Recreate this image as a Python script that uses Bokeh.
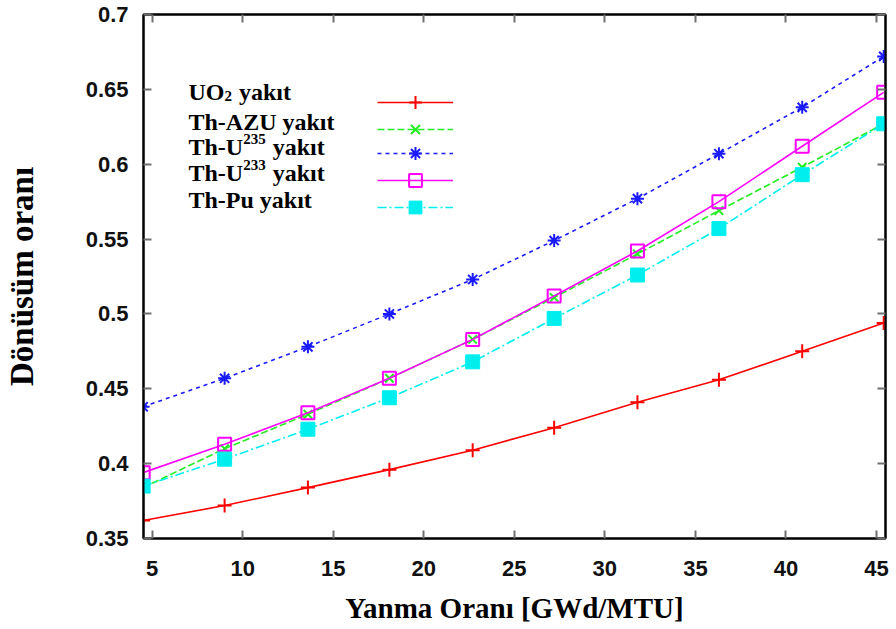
from bokeh.plotting import figure
from bokeh.models import FixedTicker, LinearAxis, Legend, LegendItem, Label, Range1d
from bokeh.embed import file_html
from bokeh.resources import INLINE

# ---- data ----
burnup = [4.5, 9.0, 13.6, 18.1, 22.7, 27.2, 31.8, 36.3, 40.9, 45.4]
uo2 = [0.362, 0.372, 0.384, 0.396, 0.409, 0.424, 0.441, 0.456, 0.475, 0.494]
th_azu = [0.384, 0.410, 0.433, 0.457, 0.483, 0.511, 0.540, 0.569, 0.598, 0.627]
th_u235 = [0.438, 0.457, 0.478, 0.500, 0.523, 0.549, 0.577, 0.607, 0.638, 0.672]
th_u233 = [0.394, 0.413, 0.434, 0.457, 0.483, 0.512, 0.542, 0.575, 0.612, 0.648]
th_pu = [0.385, 0.403, 0.423, 0.444, 0.468, 0.497, 0.526, 0.557, 0.593, 0.627]

# legend texts: (main part, sub/superscript part, rest, kind)
series_labels = [
    ("UO", "2", "yak\u0131t", "sub"),
    ("Th-AZU yak\u0131t", "", "", None),
    ("Th-U", "235", "yak\u0131t", "sup"),
    ("Th-U", "233", "yak\u0131t", "sup"),
    ("Th-Pu yak\u0131t", "", "", None),
]
x_ticks = [5, 10, 15, 20, 25, 30, 35, 40, 45]
y_ticks = [0.35, 0.4, 0.45, 0.5, 0.55, 0.6, 0.65, 0.7]
y_tick_labels = ["0.35", "0.4", "0.45", "0.5", "0.55", "0.6", "0.65", "0.7"]
x_title = "Yanma Oran\u0131 [GWd/MTU]"
y_title = "D\u00f6n\u00fcs\u00fcm oran\u0131"

TICK_FONT = "Liberation Sans"
TITLE_FONT = "Liberation Serif"

FRAME_H = 524
p = figure(width=890, height=627,
           x_range=Range1d(4.52, 45.5), y_range=Range1d(0.35, 0.7),
           output_backend="svg", toolbar_location=None,
           min_border_left=143, min_border_right=5,
           min_border_top=14, min_border_bottom=89)

p.xgrid.visible = False
p.ygrid.visible = False
p.outline_line_color = "black"
p.outline_line_width = 2
p.background_fill_color = "white"
p.border_fill_color = "white"

def style_axis(ax, ticks, overrides=None, show_labels=True):
    ax.ticker = FixedTicker(ticks=ticks)
    if overrides:
        ax.major_label_overrides = overrides
    ax.minor_tick_line_color = None
    ax.major_tick_in = 8
    ax.major_tick_out = 0
    ax.major_tick_line_color = "#707070"
    ax.major_tick_line_width = 2
    ax.axis_line_color = "black"
    ax.axis_line_width = 2
    if show_labels:
        ax.major_label_text_font = TICK_FONT
        ax.major_label_text_font_style = "bold"
        ax.major_label_text_font_size = "22px"
        ax.major_label_text_color = "#111111"
    else:
        ax.major_label_text_font_size = "1px"
        ax.major_label_text_color = None
        ax.major_label_standoff = 0

xa = p.xaxis[0]
style_axis(xa, x_ticks)
xa.major_label_standoff = 22
xa.axis_label = x_title
xa.axis_label_text_font = TITLE_FONT
xa.axis_label_text_font_style = "bold"
xa.axis_label_text_font_size = "29px"
xa.axis_label_text_color = "black"
xa.axis_label_standoff = 13

ya = p.yaxis[0]
style_axis(ya, y_ticks, {t: s for t, s in zip(y_ticks, y_tick_labels)})
ya.major_label_standoff = 15
ya.axis_label = y_title
ya.axis_label_text_font = TITLE_FONT
ya.axis_label_text_font_style = "bold"
ya.axis_label_text_font_size = "33px"
ya.axis_label_text_color = "black"
ya.axis_label_standoff = 43

top_ax = LinearAxis()
style_axis(top_ax, x_ticks, show_labels=False)
p.add_layout(top_ax, "above")
right_ax = LinearAxis()
style_axis(right_ax, y_ticks, show_labels=False)
p.add_layout(right_ax, "right")

# ---- series ----
specs = [
    (uo2, "#ff0000", "solid", "cross", 14, True),
    (th_azu, "#22ee22", "7 3", "x", 12, True),
    (th_u235, "#1a1aff", "4 4", "asterisk", 13, True),
    (th_u233, "#ff00ff", "solid", "square", 13, False),
    (th_pu, "#00eeee", "9 3 2 3", "square", 14, True),
]

# legend row geometry (frame-relative, from top)
LINE_ROWS = [88, 115, 139, 166, 193]
TEXT_BASELINES = [77, 107, 132.5, 158.5, 185]
GLYPH_H = 32

for i, (vals, color, dash, marker, size, filled) in enumerate(specs):
    r_line = p.line(burnup, vals, line_color=color, line_width=1.6, line_dash=dash)
    if marker == "square" and not filled:
        r_mark = p.scatter(burnup, vals, marker=marker, size=size, fill_color=None,
                           line_color=color, line_width=2)
    elif marker == "square":
        r_mark = p.scatter(burnup, vals, marker=marker, size=size, fill_color=color,
                           line_color=color, line_width=1)
    else:
        r_mark = p.scatter(burnup, vals, marker=marker, size=size, line_color=color,
                           line_width=2)
    leg = Legend(items=[LegendItem(label="", renderers=[r_line, r_mark])],
                 location=(234, FRAME_H - LINE_ROWS[i] - GLYPH_H / 2),
                 glyph_width=76, glyph_height=GLYPH_H, label_height=GLYPH_H,
                 label_width=0, label_standoff=0, spacing=0, padding=0, margin=0,
                 border_line_color=None, background_fill_alpha=0,
                 label_text_font_size="1px", label_text_color=None)
    p.add_layout(leg, "center")

# Times-Bold-compatible advance widths (em)
W = {"T": .667, "h": .556, "-": .333, "U": .722, "O": .778, "A": .722, "Z": .667,
     "P": .611, "u": .556, " ": .25, "y": .5, "a": .5, "k": .556, "\u0131": .278,
     "t": .333}

def width(s, size):
    return sum(W.get(c, .5) for c in s) * size

MAIN = 24
SCRIPT = 15
X0 = 45
for i, (main, script, rest, kind) in enumerate(series_labels):
    yb = FRAME_H - TEXT_BASELINES[i]
    kw = dict(x_units="screen", y_units="screen", text_font=TITLE_FONT,
              text_font_style="bold", text_baseline="alphabetic", text_color="black")
    p.add_layout(Label(x=X0, y=yb, text=main, text_font_size=f"{MAIN}px", **kw))
    if script:
        xs = X0 + width(main, MAIN)
        dy = -4 if kind == "sub" else 8
        p.add_layout(Label(x=xs, y=yb + dy, text=script,
                           text_font_size=f"{SCRIPT}px", **kw))
        xr = xs + 0.5 * len(script) * SCRIPT + width(" ", MAIN) + 1
        p.add_layout(Label(x=xr, y=yb, text=rest, text_font_size=f"{MAIN}px", **kw))

open("out.html", "w").write(file_html(p, INLINE))
